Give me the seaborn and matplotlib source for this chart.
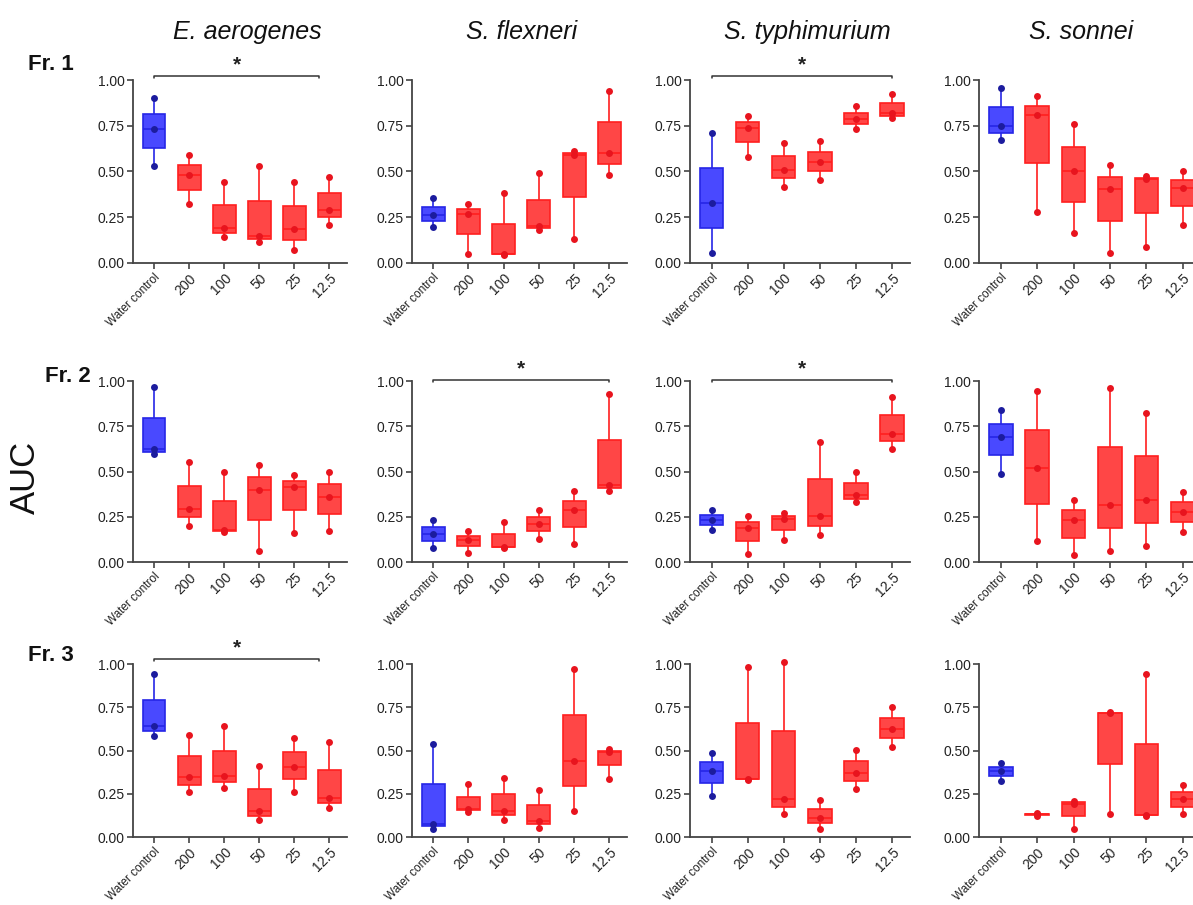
import pandas as pd
import matplotlib
import matplotlib.pyplot as plt
import matplotlib.transforms as mtransforms
import seaborn as sns
from matplotlib import font_manager

doses = ['Water control', '200', '100', '50', '25', '12.5']
species = ['E. aerogenes', 'S. flexneri', 'S. typhimurium', 'S. sonnei']
fractions = ['Fr. 1', 'Fr. 2', 'Fr. 3']

# three replicate AUC values per dose
fr1_aerogenes = [[0.53, 0.73, 0.90], [0.32, 0.48, 0.59], [0.14, 0.19, 0.44],
                 [0.115, 0.145, 0.53], [0.07, 0.185, 0.44], [0.21, 0.29, 0.47]]
fr1_flexneri = [[0.195, 0.26, 0.355], [0.05, 0.27, 0.32], [0.045, 0.05, 0.38],
                [0.18, 0.20, 0.49], [0.13, 0.59, 0.61], [0.48, 0.60, 0.94]]
fr1_typhimurium = [[0.055, 0.33, 0.71], [0.578, 0.74, 0.805], [0.418, 0.51, 0.655],
                   [0.455, 0.55, 0.665], [0.733, 0.785, 0.858], [0.79, 0.822, 0.925]]
fr1_sonnei = [[0.67, 0.75, 0.955], [0.28, 0.81, 0.91], [0.164, 0.505, 0.758],
              [0.055, 0.405, 0.536], [0.085, 0.458, 0.476], [0.209, 0.41, 0.50]]

fr2_aerogenes = [[0.597, 0.623, 0.969], [0.20, 0.295, 0.55], [0.165, 0.178, 0.50],
                 [0.059, 0.40, 0.537], [0.16, 0.415, 0.478], [0.169, 0.36, 0.50]]
fr2_flexneri = [[0.077, 0.155, 0.23], [0.05, 0.123, 0.169], [0.077, 0.085, 0.219],
                [0.127, 0.212, 0.289], [0.099, 0.285, 0.39], [0.393, 0.425, 0.928]]
fr2_typhimurium = [[0.178, 0.233, 0.285], [0.044, 0.188, 0.256], [0.119, 0.238, 0.27],
                   [0.151, 0.252, 0.665], [0.331, 0.368, 0.50], [0.625, 0.708, 0.914]]
fr2_sonnei = [[0.487, 0.69, 0.84], [0.118, 0.518, 0.945], [0.037, 0.233, 0.34],
              [0.059, 0.316, 0.96], [0.086, 0.345, 0.823], [0.165, 0.277, 0.386]]

fr3_aerogenes = [[0.583, 0.641, 0.942], [0.261, 0.345, 0.589], [0.286, 0.353, 0.643],
                 [0.097, 0.151, 0.409], [0.261, 0.405, 0.575], [0.17, 0.228, 0.55]]
fr3_flexneri = [[0.048, 0.075, 0.537], [0.145, 0.163, 0.305], [0.097, 0.152, 0.342],
                [0.054, 0.095, 0.272], [0.149, 0.438, 0.971], [0.338, 0.492, 0.506]]
fr3_typhimurium = [[0.236, 0.383, 0.483], [0.328, 0.338, 0.985], [0.131, 0.218, 1.013],
                   [0.048, 0.112, 0.212], [0.276, 0.37, 0.505], [0.521, 0.624, 0.753]]
fr3_sonnei = [[0.324, 0.382, 0.429], [0.122, 0.131, 0.139], [0.048, 0.193, 0.208],
              [0.131, 0.715, 0.722], [0.12, 0.13, 0.942], [0.131, 0.218, 0.303]]

panels = {
    ('Fr. 1', 'E. aerogenes'): fr1_aerogenes, ('Fr. 1', 'S. flexneri'): fr1_flexneri,
    ('Fr. 1', 'S. typhimurium'): fr1_typhimurium, ('Fr. 1', 'S. sonnei'): fr1_sonnei,
    ('Fr. 2', 'E. aerogenes'): fr2_aerogenes, ('Fr. 2', 'S. flexneri'): fr2_flexneri,
    ('Fr. 2', 'S. typhimurium'): fr2_typhimurium, ('Fr. 2', 'S. sonnei'): fr2_sonnei,
    ('Fr. 3', 'E. aerogenes'): fr3_aerogenes, ('Fr. 3', 'S. flexneri'): fr3_flexneri,
    ('Fr. 3', 'S. typhimurium'): fr3_typhimurium, ('Fr. 3', 'S. sonnei'): fr3_sonnei,
}

# significance bars: (fraction, species, from category, to category, height)
sig_bars = [('Fr. 1', 'E. aerogenes', 0, 4.7, 1.022),
            ('Fr. 1', 'S. typhimurium', 0, 5, 1.022),
            ('Fr. 2', 'S. flexneri', 0, 5, 1.005),
            ('Fr. 2', 'S. typhimurium', 0, 5, 1.005),
            ('Fr. 3', 'E. aerogenes', 0, 4.7, 1.03)]

rows = []
for (fr, sp), groups in panels.items():
    for dose, vals in zip(doses, groups):
        for v in vals:
            rows.append({'fraction': fr, 'species': sp, 'dose': dose, 'auc': v})
df = pd.DataFrame(rows)

sns.set_style('ticks')
names = {f.name for f in font_manager.fontManager.ttflist}
narrow = 'Liberation Sans Narrow' if 'Liberation Sans Narrow' in names else 'Liberation Sans'
plt.rcParams['font.family'] = ['Liberation Sans', 'DejaVu Sans']

W, H = 1193, 905
fig = plt.figure(figsize=(W / 100, H / 100), dpi=100)

col_px = [(133, 214), (412, 215), (690, 220), (979, 222)]
row_px = [(80, 263), (381, 562), (664, 837)]

blue_fill, blue_edge, blue_pt = '#4949ff', '#2626e6', '#1c1c9e'
red_fill, red_edge, red_pt = '#ff4646', '#ff1f1f', '#e8141e'
axis_col = '#444444'

for r, fr in enumerate(fractions):
    for c, sp in enumerate(species):
        left, width = col_px[c]
        top, bottom = row_px[r]
        ax = fig.add_axes([left / W, 1 - bottom / H, width / W, (bottom - top) / H])
        sub = df[(df['fraction'] == fr) & (df['species'] == sp)]
        ctrl = sub[sub['dose'] == 'Water control']
        trt = sub[sub['dose'] != 'Water control']
        for part, fc, ec, pc in [(ctrl, blue_fill, blue_edge, blue_pt),
                                 (trt, red_fill, red_edge, red_pt)]:
            sns.boxplot(data=part, x='dose', y='auc', order=doses, color=fc,
                        linecolor=ec, saturation=1, width=0.65, whis=(0, 100),
                        showcaps=False, linewidth=1.2, ax=ax)
            sns.stripplot(data=part, x='dose', y='auc', order=doses, color=pc,
                          size=5, jitter=False, clip_on=False, zorder=4, ax=ax)

        ax.set_xlim(-0.6, 5.5)
        ax.set_ylim(0, 1)
        ax.set_yticks([0, 0.25, 0.5, 0.75, 1.0])
        ax.set_yticklabels(['0.00', '0.25', '0.50', '0.75', '1.00'],
                           fontsize=10, family=narrow, color='#222222')
        ax.set_xticks(range(len(doses)))
        ax.set_xticklabels(doses, rotation=45, ha='right', rotation_mode='anchor',
                           fontsize=10, family=narrow, color='#222222')
        shift = mtransforms.ScaledTranslation(0.08, -0.02, fig.dpi_scale_trans)
        for lab in ax.get_xticklabels():
            lab.set_transform(lab.get_transform() + shift)
            if lab.get_text() == 'Water control':
                lab.set_fontsize(8.5)
        ax.set_xlabel('')
        ax.set_ylabel('')
        sns.despine(ax=ax)
        for s in ['left', 'bottom']:
            ax.spines[s].set_color(axis_col)
            ax.spines[s].set_linewidth(1.3)
        ax.tick_params(length=4, width=1.2, color=axis_col, pad=2)

        for bfr, bsp, x0, x1, y in sig_bars:
            if bfr == fr and bsp == sp:
                ax.plot([x0, x0, x1, x1], [y - 0.012, y, y, y - 0.012], color='#333333',
                        lw=1.1, clip_on=False)
                ax.annotate('*', xy=((x0 + x1) / 2, y), xytext=(0, 1),
                            textcoords='offset points', ha='center', va='bottom',
                            fontsize=15, fontweight='bold', color='#222222',
                            annotation_clip=False)

# column titles
title_x = [247, 522, 807, 1081]
for sp, tx in zip(species, title_x):
    fig.text(tx / W, 1 - 39 / H, sp, ha='center', va='baseline', fontsize=18,
             style='italic', color='#111111')

# row labels
fr_pos = [(28, 65), (45, 376), (28, 655)]
for fr, (fx, fy) in zip(fractions, fr_pos):
    fig.text(fx / W, 1 - fy / H, fr, ha='left', va='center', fontsize=16,
             fontweight='bold', family=narrow, color='#111111')

fig.text(25 / W, 1 - 477 / H, 'AUC', rotation=90, ha='center', va='center',
         fontsize=25, color='#111111')

fig.savefig('out.png', dpi=100, facecolor='white')
